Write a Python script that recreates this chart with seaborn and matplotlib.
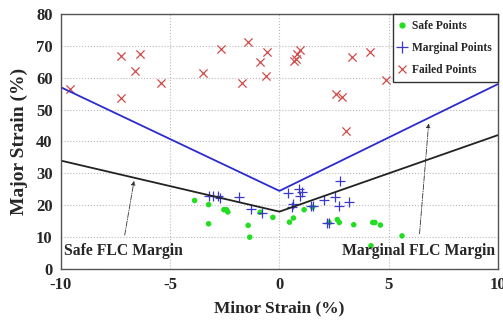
import numpy as np
import pandas as pd
import seaborn as sns
import matplotlib.pyplot as plt
from matplotlib.lines import Line2D

# data
safe_x = [-3.88, -3.24, -3.24, -2.54, -2.42, -2.36, -1.43, -1.36, -0.88, -0.30,
          0.46, 0.64, 1.13, 1.51, 2.27, 2.65, 2.74, 3.40, 4.27, 4.37, 4.62, 5.61, 4.19]
safe_y = [21.5, 20.2, 14.2, 18.6, 18.6, 17.9, 13.7, 10.0, 17.8, 16.2,
          14.7, 16.0, 18.6, 19.4, 14.6, 15.5, 14.6, 13.9, 14.6, 14.6, 13.8, 10.4, 7.3]

marg_x = [-3.20, -3.05, -2.79, -2.73, -1.84, -1.31, -0.81, 0.41, 0.90, 1.04, 0.94,
          0.64, 0.59, 1.43, 1.55, 2.04, 2.54, 2.76, 2.71, 3.18, 2.16, 2.25]
marg_y = [23.0, 22.8, 22.8, 22.4, 22.7, 18.8, 17.5, 24.0, 25.1, 24.2, 22.8,
          20.5, 19.6, 19.9, 19.9, 21.6, 22.6, 27.5, 19.8, 21.1, 14.4, 14.4]

fail_x = [-9.60, -7.24, -7.24, -6.60, -6.37, -5.41, -3.49, -2.68, -1.72, -1.45, -0.90,
          -0.58, -0.62, 0.69, 0.75, 0.82, 0.94, 2.60, 2.85, 3.03, 3.34, 4.14, 4.86]
fail_y = [56.5, 66.8, 53.7, 62.2, 67.3, 58.2, 61.5, 69.0, 58.4, 71.2, 64.9,
          68.1, 60.4, 65.3, 66.0, 67.3, 68.7, 54.8, 53.9, 43.3, 66.6, 67.9, 59.3]

flc_x = [-10, 0, 10]
marginal_flc_y = [57, 24.5, 58]
safe_flc_y = [34, 18, 42]

green = "#22dd22"
blue = "#3a3ac8"
red = "#d04a4a"

sns.set_style("white")
plt.rcParams["font.family"] = ["Liberation Serif", "DejaVu Serif"]
plt.rcParams["font.weight"] = "bold"
plt.rcParams["axes.unicode_minus"] = False

fig = plt.figure(figsize=(5.03, 3.23), dpi=100)
ax = fig.add_axes([0.121, 0.167, 0.869, 0.79])

sns.lineplot(x=flc_x, y=marginal_flc_y, color="#2b2bd0", lw=1.3, ax=ax)
sns.lineplot(x=flc_x, y=safe_flc_y, color="#222222", lw=1.3, ax=ax)

sns.scatterplot(x=safe_x, y=safe_y, marker="o", s=16, color=green, edgecolor="none", ax=ax)
sns.scatterplot(x=marg_x, y=marg_y, marker="+", s=55, color=blue, linewidth=0.9, ax=ax)
sns.scatterplot(x=fail_x, y=fail_y, marker="x", s=35, color=red, linewidth=0.9, ax=ax)

ax.set_xlim(-10, 10)
ax.set_ylim(0, 80)
ax.set_xticks([-10, -5, 0, 5, 10])
ax.set_yticks(range(0, 81, 10))
ax.grid(True, ls=":", color="#bbbbbb", lw=0.8)
for s in ax.spines.values():
    s.set_color("#555555")
    s.set_linewidth(1.0)
ax.tick_params(labelsize=12, length=0, pad=6)
for lab in ax.get_xticklabels() + ax.get_yticklabels():
    lab.set_fontweight("bold")

ax.set_xlabel("Minor Strain (%)", fontsize=12.5, fontweight="bold", labelpad=5)
ax.set_ylabel("Major Strain (%)", fontsize=14, fontweight="bold", labelpad=6)

ax.text(-9.85, 5.8, "Safe FLC Margin", fontsize=11.3, fontweight="bold", va="center", ha="left")
ax.text(9.85, 5.8, "Marginal FLC Margin", fontsize=11.3, fontweight="bold", va="center", ha="right")
ax.annotate("", xy=(-6.63, 28.5), xytext=(-7.1, 9.8),
            arrowprops=dict(arrowstyle="-|>", color="#333333", lw=0.6, ls="-.",
                            mutation_scale=6))
ax.annotate("", xy=(6.84, 46.5), xytext=(6.4, 10.2),
            arrowprops=dict(arrowstyle="-|>", color="#333333", lw=0.6, ls="-.",
                            mutation_scale=6))

handles = [
    Line2D([], [], marker="o", ls="", color=green, markersize=3.5),
    Line2D([], [], marker="+", ls="", color=blue, markersize=8, mew=0.9),
    Line2D([], [], marker="x", ls="", color=red, markersize=6, mew=0.9),
]
leg = ax.legend(handles, ["Safe Points", "Marginal Points", "Failed Points"],
                loc="upper right", borderaxespad=0, fancybox=False, framealpha=1,
                edgecolor="#333333", prop=dict(size=8.3, weight="bold"),
                handlelength=0.5, handletextpad=0.6, labelspacing=0.85,
                borderpad=0.55)
leg.get_frame().set_linewidth(1.0)

fig.savefig("out.png", dpi=100)
